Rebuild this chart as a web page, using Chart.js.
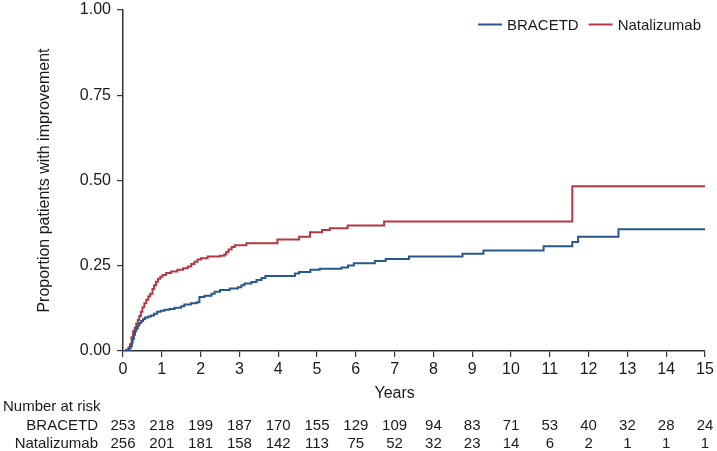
<!DOCTYPE html>
<html>
<head>
<meta charset="utf-8">
<script src="https://cdn.jsdelivr.net/npm/chart.js@4/dist/chart.umd.min.js"></script>
<style>
html,body{margin:0;padding:0;background:#fff;}
#wrap{width:717px;height:451px;position:relative;}
</style>
</head>
<body>
<div id="wrap"><canvas id="c"></canvas></div>
<script>
// ---- Data ----
const seriesNames = ['BRACETD', 'Natalizumab'];
const bracetdTimes  = [0,0.10,0.16,0.20,0.23,0.25,0.28,0.31,0.34,0.38,0.42,0.47,0.52,0.57,0.65,0.72,0.80,0.88,0.97,1.07,1.20,1.33,1.50,1.58,1.75,1.90,1.97,2.10,2.28,2.36,2.50,2.75,2.96,3.05,3.13,3.31,3.44,3.57,3.67,4.43,4.54,4.83,5.07,5.63,5.80,5.95,6.49,6.77,7.37,8.75,9.29,10.84,11.58,11.73,12.77,15];
const bracetdValues = [0,0.003,0.008,0.015,0.025,0.035,0.048,0.058,0.066,0.075,0.082,0.088,0.094,0.098,0.101,0.104,0.109,0.115,0.118,0.121,0.123,0.127,0.131,0.136,0.140,0.143,0.158,0.162,0.168,0.174,0.179,0.183,0.187,0.193,0.198,0.202,0.208,0.214,0.220,0.227,0.232,0.238,0.241,0.245,0.251,0.257,0.264,0.270,0.277,0.285,0.295,0.307,0.320,0.335,0.357,0.357];
const natTimes  = [0,0.08,0.14,0.18,0.22,0.26,0.30,0.34,0.38,0.42,0.46,0.50,0.55,0.60,0.65,0.70,0.76,0.80,0.85,0.90,0.96,1.02,1.11,1.24,1.40,1.55,1.67,1.76,1.84,1.92,2.01,2.18,2.50,2.61,2.66,2.72,2.80,2.88,3.18,3.98,4.54,4.82,5.13,5.33,5.79,6.73,11.58,15];
const natValues = [0,0.004,0.010,0.020,0.040,0.058,0.068,0.080,0.091,0.103,0.115,0.128,0.140,0.150,0.160,0.168,0.182,0.193,0.203,0.212,0.218,0.223,0.229,0.233,0.238,0.243,0.248,0.255,0.262,0.268,0.272,0.277,0.279,0.283,0.290,0.298,0.305,0.310,0.316,0.327,0.335,0.348,0.355,0.360,0.368,0.380,0.483,0.483];
const riskYears   = [0,1,2,3,4,5,6,7,8,9,10,11,12,13,14,15];
const bracetdRisk = [253,218,199,187,170,155,129,109,94,83,71,53,40,32,28,24];
const natRisk     = [256,201,181,158,142,113,75,52,32,23,14,6,2,1,1,1];
const yTicks = [0, 0.25, 0.5, 0.75, 1];

const BLUE = '#285790';
const RED  = '#B33844';
const AXIS = '#333333';
const TXT  = '#1a1a1a';
const FONT = "'Liberation Sans', Arial, sans-serif";

function pts(ts, vs){ return ts.map((t,i)=>({x:t, y:vs[i]})); }

const extras = {
  id: 'extras',
  afterDraw(chart){
    const ctx = chart.ctx;
    const xs = chart.scales.x;
    const ca = chart.chartArea;
    ctx.save();
    ctx.fillStyle = TXT;
    ctx.textBaseline = 'alphabetic';
    // x axis title
    ctx.font = '16px ' + FONT;
    ctx.textAlign = 'center';
    ctx.fillText('Years', xs.getPixelForValue(7), 397.5);
    // risk table
    ctx.font = '15px ' + FONT;
    ctx.textAlign = 'left';
    ctx.fillText('Number at risk', 3, 411);
    ctx.textAlign = 'right';
    ctx.fillText(seriesNames[0], 98, 429.5);
    ctx.fillText(seriesNames[1], 98, 447.5);
    ctx.textAlign = 'center';
    riskYears.forEach((yr,i)=>{
      const px = xs.getPixelForValue(yr);
      ctx.fillText(String(bracetdRisk[i]), px, 429.5);
      ctx.fillText(String(natRisk[i]), px, 447.5);
    });
    // legend
    const colors = [BLUE, RED];
    const lineW = 24, gap = 5, itemGap = 10;
    const widths = seriesNames.map(n=>ctx.measureText(n).width);
    let total = 0;
    widths.forEach((w,i)=>{ total += lineW + gap + w + (i < widths.length-1 ? itemGap : 0); });
    let x = ca.right - 4 - total;
    const ly = 24.5;
    ctx.textAlign = 'left';
    seriesNames.forEach((n,i)=>{
      ctx.strokeStyle = colors[i];
      ctx.lineWidth = 2;
      ctx.beginPath();
      ctx.moveTo(x, ly); ctx.lineTo(x + lineW, ly);
      ctx.stroke();
      ctx.fillStyle = TXT;
      ctx.fillText(n, x + lineW + gap, 30);
      x += lineW + gap + widths[i] + itemGap;
    });
    ctx.restore();
  }
};

new Chart(document.getElementById('c'), {
  type: 'line',
  data: {
    datasets: [
      { label: seriesNames[0], data: pts(bracetdTimes, bracetdValues), borderColor: BLUE, borderWidth: 2, pointRadius: 0, stepped: 'before', fill: false },
      { label: seriesNames[1], data: pts(natTimes, natValues), borderColor: RED, borderWidth: 2, pointRadius: 0, stepped: 'before', fill: false }
    ]
  },
  options: {
    responsive: true,
    maintainAspectRatio: false,
    animation: false,
    layout: { padding: { left: 31, right: 12, top: 0, bottom: 0 } },
    plugins: { legend: { display: false }, tooltip: { enabled: false } },
    scales: {
      x: {
        type: 'linear', min: 0, max: 15,
        afterFit(s){ s.height = 100; s.paddingLeft = 0; s.paddingRight = 0; },
        ticks: { stepSize: 1, color: TXT, font: { family: FONT, size: 16 }, padding: 3, maxRotation: 0, autoSkip: false },
        grid: { display: true, drawOnChartArea: false, drawTicks: true, tickLength: 6, color: AXIS, lineWidth: 1.2 },
        border: { display: true, color: AXIS, width: 1.5 }
      },
      y: {
        min: 0, max: 1,
        afterFit(s){ s.width = 92; s.paddingTop = 10; s.paddingBottom = 0; },
        afterBuildTicks(s){ s.ticks = yTicks.map(v=>({value:v})); },
        ticks: { color: TXT, font: { family: FONT, size: 16 }, padding: 6, callback: v => Number(v).toFixed(2) },
        grid: { display: true, drawOnChartArea: false, drawTicks: true, tickLength: 6, color: AXIS, lineWidth: 1.2 },
        border: { display: true, color: AXIS, width: 1.5 },
        title: { display: true, text: 'Proportion patients with improvement', color: TXT, font: { family: FONT, size: 16 } }
      }
    }
  },
  plugins: [extras]
});
</script>
</body>
</html>
